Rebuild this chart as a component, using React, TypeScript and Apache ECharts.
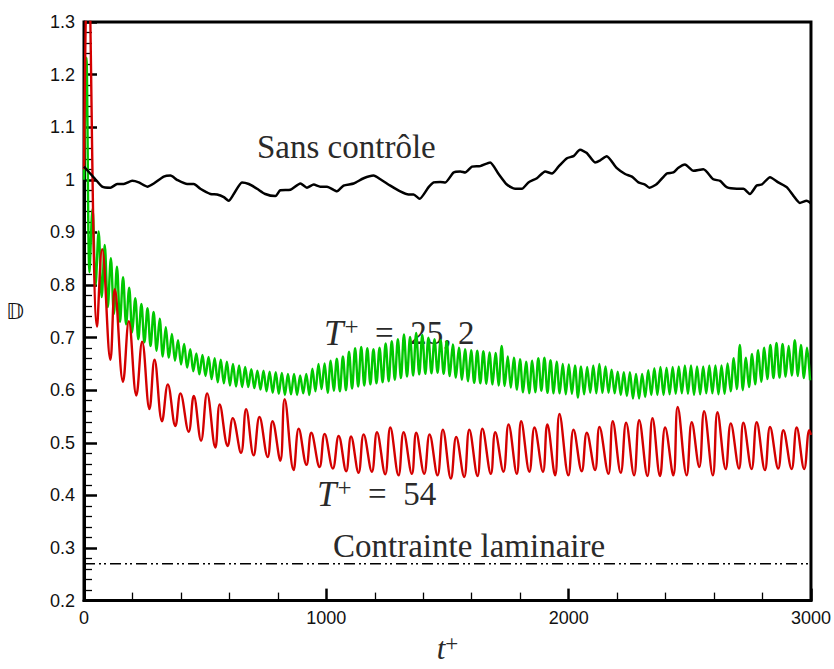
import React, { useEffect, useRef } from 'react';
import * as echarts from 'echarts';

// x-axis: t+ ; y-axis: drag ratio
const xTickLabels = ['0', '1000', '2000', '3000'];

// "Sans contrôle" (uncontrolled) curve
const blackT = [0, 6, 47, 75, 109, 137, 164, 199, 226, 261, 288, 329, 357, 384, 426, 453, 480, 522, 549, 577, 597, 618, 652, 680, 714, 748, 790, 810, 852, 893, 920, 948, 975, 1003, 1044, 1071, 1113, 1154, 1195, 1223, 1264, 1305, 1339, 1360, 1385, 1422, 1443, 1470, 1491, 1525, 1553, 1573, 1601, 1635, 1676, 1711, 1745, 1779, 1807, 1834, 1869, 1903, 1931, 1958, 1993, 2020, 2047, 2075, 2109, 2130, 2157, 2199, 2233, 2261, 2288, 2315, 2333, 2364, 2405, 2432, 2453, 2480, 2515, 2556, 2597, 2625, 2652, 2694, 2721, 2748, 2776, 2797, 2831, 2865, 2900, 2927, 2954, 2982, 3000];
const blackV = [1.025, 1.022, 1.001, 0.987, 0.985, 0.992, 0.992, 0.998, 0.995, 0.987, 0.993, 1.006, 1.008, 1.0, 0.992, 0.992, 0.983, 0.973, 0.972, 0.967, 0.96, 0.973, 0.995, 0.992, 0.983, 0.973, 0.969, 0.98, 0.981, 0.993, 0.985, 0.991, 0.987, 0.987, 0.978, 0.989, 0.993, 1.003, 1.008, 1.001, 0.989, 0.978, 0.972, 0.972, 0.964, 0.986, 0.995, 0.996, 0.995, 1.014, 1.016, 1.014, 1.025, 1.026, 1.033, 1.011, 0.991, 0.983, 0.983, 0.995, 1.003, 1.016, 1.012, 1.025, 1.041, 1.045, 1.057, 1.051, 1.033, 1.037, 1.045, 1.022, 1.011, 1.006, 0.995, 0.991, 0.985, 0.992, 1.012, 1.014, 1.023, 1.029, 1.017, 1.02, 1.001, 0.998, 0.986, 0.983, 0.983, 0.973, 0.989, 0.991, 1.005, 0.995, 0.986, 0.97, 0.956, 0.96, 0.955];

// T+ = 54 curve : successive extrema (troughs / peaks)
const redT = [0, 16, 54, 75, 109, 127, 161, 185, 216, 240, 270, 291, 322, 346, 377, 398, 432, 453, 483, 508, 542, 560, 593, 614, 648, 669, 700, 724, 758, 778, 810, 828, 865, 886, 918, 938, 972, 993, 1027, 1051, 1082, 1102, 1133, 1154, 1188, 1209, 1243, 1264, 1298, 1319, 1353, 1371, 1404, 1426, 1459, 1481, 1514, 1536, 1569, 1590, 1624, 1644, 1679, 1697, 1731, 1752, 1786, 1804, 1838, 1859, 1894, 1912, 1944, 1962, 1999, 2020, 2054, 2075, 2109, 2127, 2164, 2182, 2215, 2237, 2270, 2291, 2325, 2346, 2377, 2398, 2432, 2450, 2487, 2508, 2539, 2559, 2595, 2614, 2648, 2669, 2703, 2721, 2755, 2776, 2810, 2831, 2865, 2886, 2920, 2941, 2972, 2993, 3000];
const redV = [1.02, 1.45, 0.721, 0.868, 0.658, 0.792, 0.616, 0.731, 0.59, 0.692, 0.564, 0.658, 0.541, 0.611, 0.532, 0.594, 0.521, 0.589, 0.504, 0.594, 0.491, 0.573, 0.494, 0.547, 0.481, 0.564, 0.476, 0.549, 0.473, 0.541, 0.466, 0.583, 0.448, 0.527, 0.458, 0.519, 0.454, 0.517, 0.451, 0.513, 0.446, 0.512, 0.443, 0.516, 0.445, 0.52, 0.44, 0.529, 0.438, 0.52, 0.441, 0.519, 0.441, 0.516, 0.438, 0.525, 0.432, 0.511, 0.435, 0.525, 0.437, 0.527, 0.441, 0.52, 0.445, 0.535, 0.441, 0.541, 0.445, 0.529, 0.445, 0.535, 0.438, 0.555, 0.438, 0.525, 0.446, 0.519, 0.448, 0.53, 0.441, 0.541, 0.443, 0.538, 0.438, 0.543, 0.437, 0.547, 0.437, 0.529, 0.438, 0.568, 0.438, 0.539, 0.454, 0.56, 0.438, 0.558, 0.45, 0.537, 0.451, 0.538, 0.45, 0.539, 0.448, 0.53, 0.451, 0.524, 0.45, 0.529, 0.45, 0.524, 0.515];

// T+ = 25.2 curve : one peak and one trough per forcing period
const greenPeriod = 25.2;
const greenFirstPeakT = 10;
const greenStart = [0, 1.0];
const greenPeak = [1.232, 0.945, 0.902, 0.876, 0.851, 0.835, 0.815, 0.795, 0.775, 0.764, 0.756, 0.749, 0.736, 0.72, 0.707, 0.695, 0.688, 0.678, 0.67, 0.667, 0.663, 0.661, 0.658, 0.654, 0.65, 0.647, 0.644, 0.64, 0.637, 0.637, 0.635, 0.634, 0.633, 0.631, 0.631, 0.628, 0.631, 0.641, 0.65, 0.651, 0.656, 0.66, 0.664, 0.673, 0.68, 0.682, 0.68, 0.678, 0.681, 0.689, 0.693, 0.697, 0.706, 0.701, 0.709, 0.705, 0.7, 0.697, 0.695, 0.693, 0.687, 0.681, 0.678, 0.676, 0.675, 0.674, 0.672, 0.671, 0.684, 0.664, 0.662, 0.659, 0.654, 0.656, 0.661, 0.662, 0.657, 0.654, 0.65, 0.649, 0.647, 0.645, 0.644, 0.647, 0.65, 0.645, 0.639, 0.635, 0.634, 0.634, 0.631, 0.631, 0.638, 0.642, 0.644, 0.643, 0.644, 0.645, 0.647, 0.647, 0.645, 0.645, 0.647, 0.647, 0.647, 0.651, 0.661, 0.686, 0.662, 0.669, 0.676, 0.681, 0.686, 0.69, 0.688, 0.684, 0.695, 0.686, 0.681];
const greenTrough = [0.824, 0.8, 0.777, 0.758, 0.745, 0.73, 0.725, 0.71, 0.697, 0.691, 0.684, 0.675, 0.664, 0.662, 0.656, 0.649, 0.643, 0.636, 0.63, 0.627, 0.621, 0.615, 0.613, 0.609, 0.607, 0.606, 0.606, 0.604, 0.601, 0.598, 0.595, 0.593, 0.591, 0.592, 0.591, 0.594, 0.591, 0.598, 0.602, 0.595, 0.599, 0.598, 0.6, 0.603, 0.607, 0.609, 0.611, 0.613, 0.615, 0.617, 0.62, 0.623, 0.626, 0.628, 0.63, 0.631, 0.632, 0.633, 0.631, 0.627, 0.624, 0.62, 0.617, 0.614, 0.613, 0.612, 0.611, 0.609, 0.608, 0.605, 0.601, 0.596, 0.594, 0.596, 0.599, 0.595, 0.594, 0.594, 0.592, 0.593, 0.586, 0.592, 0.595, 0.594, 0.595, 0.595, 0.594, 0.591, 0.589, 0.584, 0.584, 0.587, 0.591, 0.591, 0.591, 0.592, 0.593, 0.594, 0.593, 0.591, 0.592, 0.594, 0.594, 0.592, 0.593, 0.598, 0.602, 0.6, 0.606, 0.611, 0.616, 0.621, 0.623, 0.624, 0.626, 0.628, 0.627, 0.623, 0.619];

// laminar drag level
const laminarT = [0, 3000];
const laminarV = [0.27, 0.27];

const serif = '"Liberation Serif", "Times New Roman", serif';
const sans = '"Liberation Sans", Arial, sans-serif';

function pairs(xs: number[], ys: number[]) {
  return xs.map((x, i) => [x, ys[i]]);
}

function greenData() {
  const out: number[][] = [greenStart];
  for (let i = 0; i < greenPeak.length; i++) {
    const tp = greenFirstPeakT + greenPeriod * i;
    out.push([tp, greenPeak[i]]);
    out.push([tp + greenPeriod / 2, greenTrough[i]]);
  }
  return out;
}

const txt = '#2a2a2a';
const supRich = {
  it: { fontFamily: serif, fontStyle: 'italic', fontSize: 35, color: txt },
  sup: { fontFamily: serif, fontSize: 25, color: txt, verticalAlign: 'top', padding: [0, 0, 13, 1] },
  n: { fontFamily: serif, fontSize: 33, color: txt },
};

export default function App() {
  const ref = useRef<HTMLDivElement>(null);
  useEffect(() => {
    if (!ref.current) return;
    const chart = echarts.init(ref.current, undefined, { renderer: 'svg' });
    const option: any = {
      animation: false,
      backgroundColor: '#ffffff',
      grid: {
        left: 84,
        right: 23,
        top: 22,
        bottom: 58,
        show: true,
        borderColor: '#000',
        borderWidth: 3,
        backgroundColor: 'transparent',
      },
      xAxis: {
        type: 'value',
        min: 0,
        max: 3000,
        interval: 1000,
        axisLine: { show: true, onZero: false, lineStyle: { color: '#000', width: 3 } },
        axisTick: { show: true, inside: true, length: 12, lineStyle: { color: '#000', width: 2.5 } },
        minorTick: { show: true, splitNumber: 5, length: 8, lineStyle: { color: '#000', width: 1.3 } },
        splitLine: { show: false },
        axisLabel: {
          fontSize: 18,
          fontFamily: sans,
          color: '#111',
          margin: 8,
          formatter: (v: number) => xTickLabels[Math.round(v / 1000)] ?? String(v),
        },
        name: '{i|t}{s|+}',
        nameLocation: 'middle',
        nameGap: 30,
        nameTextStyle: {
          rich: {
            i: { fontFamily: serif, fontStyle: 'italic', fontSize: 31, color: txt },
            s: { fontFamily: serif, fontSize: 23, color: txt, verticalAlign: 'top', padding: [0, 0, 11, 0] },
          },
        },
      },
      yAxis: {
        type: 'value',
        min: 0.2,
        max: 1.3,
        interval: 0.1,
        axisLine: { show: true, onZero: false, lineStyle: { color: '#000', width: 3 } },
        axisTick: { show: true, inside: true, length: 13, lineStyle: { color: '#000', width: 2.5 } },
        minorTick: { show: true, splitNumber: 5, length: 8, lineStyle: { color: '#000', width: 1.3 } },
        splitLine: { show: false },
        axisLabel: {
          fontSize: 18,
          fontFamily: sans,
          color: '#111',
          margin: 9,
          formatter: (v: number) => (Math.abs(v - 1) < 1e-9 ? '1' : v.toFixed(1)),
        },
        name: '\u{1D53B}',
        nameLocation: 'middle',
        nameRotate: 0,
        nameGap: 60,
        nameTextStyle: { fontFamily: '"DejaVu Sans", sans-serif', fontSize: 22, color: '#111', padding: [8, 0, 0, 0] },
      },
      series: [
        {
          type: 'line',
          data: greenData(),
          showSymbol: false,
          smooth: 0.35,
          lineStyle: { color: '#00c800', width: 2.4 },
          z: 2,
        },
        {
          type: 'line',
          data: pairs(redT, redV),
          showSymbol: false,
          smooth: 0.4,
          lineStyle: { color: '#d40000', width: 2.4 },
          z: 3,
        },
        {
          type: 'line',
          data: pairs(blackT, blackV),
          showSymbol: false,
          smooth: 0.2,
          lineStyle: { color: '#000', width: 2.5 },
          z: 4,
        },
        {
          type: 'line',
          data: pairs(laminarT, laminarV),
          showSymbol: false,
          lineStyle: { color: '#000', width: 1.6, type: [11, 4, 2, 3, 2, 4] },
          z: 4,
        },
      ],
      graphic: [
        { type: 'text', x: 257, y: 130, style: { text: 'Sans contrôle', font: `33px ${serif}`, fill: txt } },
        {
          type: 'text', x: 324, y: 314,
          style: { text: '{it|T}{sup|+}{n|\u2002=\u200225,\u20092}', rich: supRich, fill: txt },
        },
        {
          type: 'text', x: 317, y: 475,
          style: { text: '{it|T}{sup|+}{n|\u2002=\u200254}', rich: supRich, fill: txt },
        },
        { type: 'text', x: 333, y: 529, style: { text: 'Contrainte laminaire', font: `33px ${serif}`, fill: txt } },
      ],
    };
    chart.setOption(option);
    return () => chart.dispose();
  }, []);
  return (
    <div
      ref={ref}
      style={{ position: 'fixed', left: 0, top: 0, width: 834, height: 669, background: '#fff' }}
    />
  );
}
